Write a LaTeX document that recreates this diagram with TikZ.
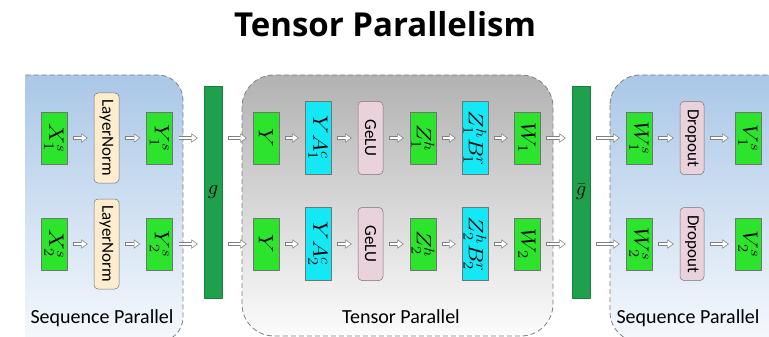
\documentclass[tikz,border=0pt]{standalone}
\usepackage{fontspec}
\setmainfont{Carlito}
\newfontfamily\titlefont{Open Sans}
\usepackage{graphicx}
\usetikzlibrary{arrows.meta,positioning}

\definecolor{boxgreen}{RGB}{44,228,44}
\definecolor{boxcyan}{RGB}{20,232,245}
\definecolor{gelubg}{RGB}{234,210,220}
\definecolor{normbg}{RGB}{253,236,206}
\definecolor{bargreen}{RGB}{30,160,76}
\definecolor{seqtop}{RGB}{170,199,231}
\definecolor{seqbot}{RGB}{246,249,253}
\definecolor{tenstop}{RGB}{178,178,178}
\definecolor{tensbot}{RGB}{252,252,252}

\newcommand{\vtext}[1]{\rotatebox{-90}{#1}}
\newcommand{\vmath}[1]{\rotatebox{-90}{\scalebox{1.15}[1]{$#1$}}}

\tikzset{
  tens/.style={draw=black!55, line width=0.5pt, inner sep=0pt, fill=boxgreen,
    minimum width=26pt, minimum height=52pt, font=\fontsize{22}{22}\selectfont},
  wide/.style={tens, fill=boxcyan, minimum height=73pt},
  opbox/.style={draw=black!55, line width=0.5pt, rounded corners=4pt, inner sep=0pt,
    minimum width=25pt, minimum height=73pt, font=\fontsize{17}{17}\selectfont},
  bar/.style={fill=bargreen, draw=bargreen!80!black, inner sep=0pt,
    minimum width=18pt, minimum height=212pt, font=\fontsize{22}{22}\selectfont},
  dbl/.style={draw=white, line width=2.6pt,
    -{Triangle[length=4.6pt, width=6.7pt, line width=0pt]},
    shorten <=6.7pt, shorten >=7.2pt,
    preaction={draw=black!50, line width=4pt,
      -{Triangle[length=6.5pt, width=9.5pt, line width=0pt]},
      shorten <=6pt, shorten >=6pt}},
  region/.style={draw=black!50, line width=0.8pt, dash pattern=on 5pt off 3pt},
  caption/.style={anchor=base, font=\fontsize{20}{20}\selectfont}
}

\begin{document}
\begin{tikzpicture}[x=1pt, y=-1pt, line join=round]
	\useasboundingbox (0,0) rectangle (769,337);
	\def\ra{138}
	\def\rb{244}
	\def\bary{192}
	
	\begin{scope}
		\clip (25,0) rectangle (769,337);
		\shade[top color=seqtop, bottom color=seqbot, rounded corners=25pt] (-20,75) rectangle (183,342);
		\draw[region, rounded corners=25pt] (-20,75) rectangle (183,342);
		\shade[top color=tenstop, bottom color=tensbot, rounded corners=32pt] (242,75) rectangle (553,336);
		\draw[region, rounded corners=32pt] (242,75) rectangle (553,336);
		\shade[top color=seqtop, bottom color=seqbot, rounded corners=30pt] (610,75) rectangle (800,342);
		\draw[region, rounded corners=30pt] (610,75) rectangle (800,342);
	\end{scope}
	
	\node[font=\titlefont\bfseries\fontsize{33}{33}\selectfont, anchor=base] (title) at (385,37) {Tensor Parallelism};
	
	% sequence parallel, left
	\node[tens] (X1s) at (54,\ra) {\vmath{X_1^s}};
	\node[opbox, fill=normbg, minimum height=90pt] (LN1) at (106.5,\ra) {\vtext{LayerNorm}};
	\node[tens] (Y1s) at (159.5,\ra) {\vmath{Y_1^s}};
	\node[tens] (X2s) at (54,\rb) {\vmath{X_2^s}};
	\node[opbox, fill=normbg, minimum height=90pt] (LN2) at (106.5,\rb) {\vtext{LayerNorm}};
	\node[tens] (Y2s) at (159.5,\rb) {\vmath{Y_2^s}};
	
	\node[bar] (gL) at (213,\bary) {$g$};
	
	% tensor parallel
	\node[tens] (Ya) at (266,\ra) {\vmath{Y}};
	\node[wide] (YA1) at (318,\ra) {\vmath{YA_1^c}};
	\node[opbox, fill=gelubg] (G1) at (370.5,\ra) {\vtext{GeLU}};
	\node[tens] (Z1) at (423,\ra) {\vmath{Z_1^h}};
	\node[wide] (ZB1) at (475,\ra) {\vmath{Z_1^hB_1^r}};
	\node[tens] (W1) at (527,\ra) {\vmath{W_1}};
	\node[tens] (Yb) at (266,\rb) {\vmath{Y}};
	\node[wide] (YA2) at (318,\rb) {\vmath{YA_2^c}};
	\node[opbox, fill=gelubg] (G2) at (370.5,\rb) {\vtext{GeLU}};
	\node[tens] (Z2) at (423,\rb) {\vmath{Z_2^h}};
	\node[wide] (ZB2) at (475,\rb) {\vmath{Z_2^hB_2^r}};
	\node[tens] (W2) at (527,\rb) {\vmath{W_2}};
	
	\node[bar] (gR) at (581,\bary) {$\bar{g}$};
	
	% sequence parallel, right
	\node[tens] (W1s) at (639,\ra) {\vmath{W_1^s}};
	\node[opbox, fill=gelubg, minimum width=24pt] (D1) at (692,\ra) {\vtext{Dropout}};
	\node[tens] (V1s) at (748,\ra) {\vmath{V_1^s}};
	\node[tens] (W2s) at (639,\rb) {\vmath{W_2^s}};
	\node[opbox, fill=gelubg, minimum width=24pt] (D2) at (692,\rb) {\vtext{Dropout}};
	\node[tens] (V2s) at (748,\rb) {\vmath{V_2^s}};
	
	\draw[dbl] (X1s) -- (LN1);
	\draw[dbl] (LN1) -- (Y1s);
	\draw[dbl] (X2s) -- (LN2);
	\draw[dbl] (LN2) -- (Y2s);
	\draw[dbl] (Y1s.east) -- (Y1s.east -| gL.west);
	\draw[dbl] (Y2s.east) -- (Y2s.east -| gL.west);
	\draw[dbl] (gL.east |- Ya.west) -- (Ya.west);
	\draw[dbl] (gL.east |- Yb.west) -- (Yb.west);
	\draw[dbl] (Ya) -- (YA1);
	\draw[dbl] (YA1) -- (G1);
	\draw[dbl] (G1) -- (Z1);
	\draw[dbl] (Z1) -- (ZB1);
	\draw[dbl] (ZB1) -- (W1);
	\draw[dbl] (Yb) -- (YA2);
	\draw[dbl] (YA2) -- (G2);
	\draw[dbl] (G2) -- (Z2);
	\draw[dbl] (Z2) -- (ZB2);
	\draw[dbl] (ZB2) -- (W2);
	\draw[dbl] (W1.east) -- (W1.east -| gR.west);
	\draw[dbl] (W2.east) -- (W2.east -| gR.west);
	\draw[dbl] (gR.east |- W1s.west) -- (W1s.west);
	\draw[dbl] (gR.east |- W2s.west) -- (W2s.west);
	\draw[dbl] (W1s) -- (D1);
	\draw[dbl] (D1) -- (V1s);
	\draw[dbl] (W2s) -- (D2);
	\draw[dbl] (D2) -- (V2s);
	
	\node[caption] (seqL) at (102,323) {Sequence Parallel};
	\node[caption] (tensC) at (401,323) {Tensor Parallel};
	\node[caption] (seqR) at (688,323) {Sequence Parallel};
\end{tikzpicture}
\end{document}
